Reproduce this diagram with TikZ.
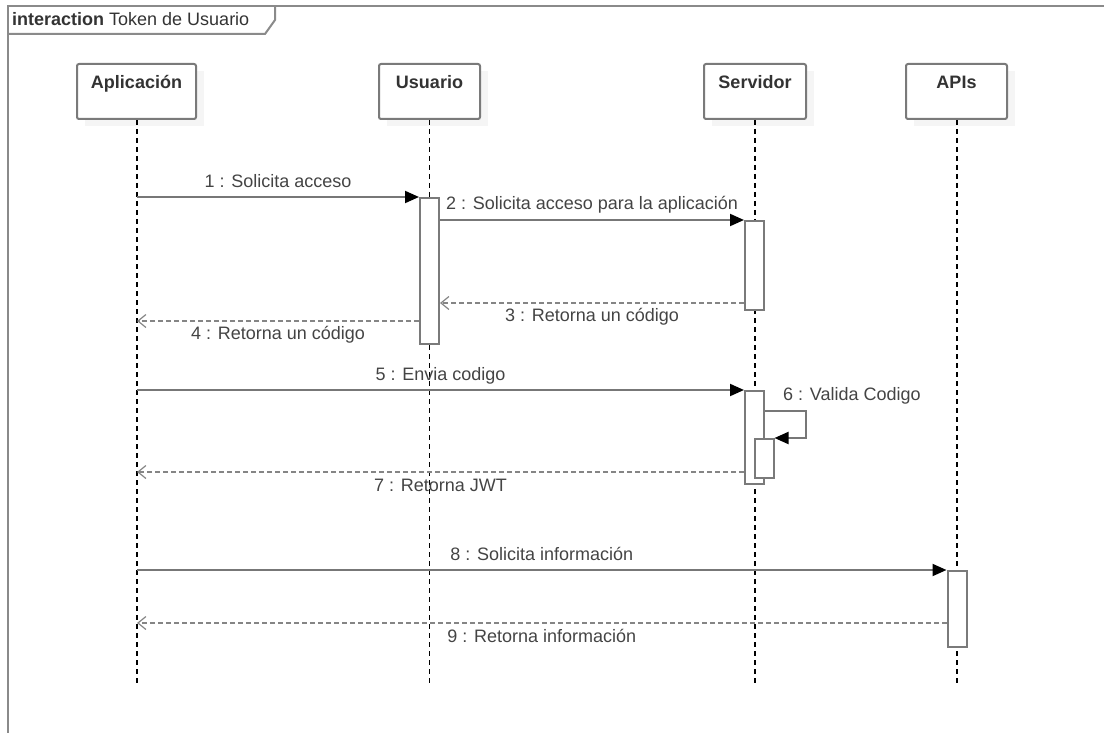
\documentclass[tikz,border=0pt]{standalone}
\usepackage{fontspec}
\setmainfont{Liberation Sans}
\usetikzlibrary{arrows.meta,calc}

\definecolor{frameline}{HTML}{8A8A8A}
\definecolor{msgline}{HTML}{777777}
\definecolor{boxline}{HTML}{7A7A7A}
\definecolor{labeltext}{HTML}{444444}
\definecolor{headtext}{HTML}{333333}

\tikzset{
  head/.style={draw=boxline, line width=2pt, rounded corners=2pt, fill=white,
    anchor=north, inner xsep=0pt, inner ysep=11.5pt, text height=13pt, text depth=19pt,
    font=\fontsize{18}{20}\selectfont\bfseries, text=headtext},
  headshadow/.style={fill=black!4, draw=none, anchor=north, minimum height=55pt, inner sep=0pt},
  lifeline/.style={draw=black, line width=1.1pt, dash pattern=on 5pt off 4pt},
  act/.style={draw=boxline, line width=2pt, fill=white, anchor=north,
    minimum width=19pt, inner sep=0pt},
  call/.style={draw=msgline, line width=2pt, -{Triangle[length=14pt,width=12pt,fill=black,color=black]}},
  reply/.style={draw=msgline!90, line width=1.5pt, dash pattern=on 5pt off 3pt,
    -{Straight Barb[length=8pt,width=13pt,line width=1.2pt]}},
  msglabel/.style={font=\fontsize{18}{20}\selectfont, text=labeltext,
    text height=13pt, text depth=4pt, inner sep=0pt},
}

\begin{document}
\begin{tikzpicture}[x=1pt, y=-1pt]
\useasboundingbox (0,0) rectangle (1104,733);

% interaction frame with its name tab
\draw[frameline, line width=2pt] (8,733) -- (8,6) -- (1104,6);
\draw[frameline, line width=2pt] (8,34) -- (265,34) -- (275,20) -- (275,6);
\node[anchor=base west, inner sep=0pt, font=\fontsize{18}{20}\selectfont, text=headtext]
  (title) at (12,26) {\textbf{interaction} Token de Usuario};

% lifeline heads (soft shadow, then the box)
\foreach \x/\w in {144.5/119, 437.5/101, 763/102, 964.5/101}
  \node[headshadow, minimum width=\w pt] at (\x,71) {};
\node[head, minimum width=119pt] (hA) at (136.5,63) {Aplicación};
\node[head, minimum width=101pt] (hU) at (429.5,63) {Usuario};
\node[head, minimum width=102pt] (hS) at (755,63) {Servidor};
\node[head, minimum width=101pt] (hP) at (956.5,63) {APIs};

% lifelines
\coordinate (eA) at (137,686);
\coordinate (eU) at (429.5,686);
\coordinate (eS) at (755,686);
\coordinate (eP) at (957,686);
\draw[lifeline] (hA.south -| eA) -- (eA);
\draw[lifeline] (hU.south) -- (eU);
\draw[lifeline] (hS.south) -- (eS);
\draw[lifeline] (hP.south -| eP) -- (eP);

% activation bars
\node[act, minimum height=146pt] (aU)  at (429.5,197) {};
\node[act, minimum height=89pt]  (aS1) at (754.5,220) {};
\node[act, minimum height=93pt]  (aS2) at (754.5,390) {};
\node[act, minimum height=39pt]  (aS3) at (764,438) {};
\node[act, minimum height=76pt]  (aP)  at (957,570) {};

% message end points on the Aplicación lifeline
\coordinate (p1) at (137,197);
\coordinate (p4) at (137,321);
\coordinate (p5) at (137,390);
\coordinate (p7) at (137,472);
\coordinate (p8) at (137,570);
\coordinate (p9) at (137,623);
\coordinate (loop) at (806,411);

% messages
\draw[call] (p1) -- (aU.north west)
  node[msglabel, midway, yshift=14pt] {1 : Solicita acceso};
\draw[call] (aU.east |- aS1.north) -- (aS1.north west)
  node[msglabel, midway, yshift=15pt] {2 : Solicita acceso para la aplicación};
\draw[reply] (aS1.west |- 0,303) -- (aU.east |- 0,303)
  node[msglabel, midway, yshift=-14pt] {3 : Retorna un código};
\draw[reply] (aU.west |- p4) -- (p4)
  node[msglabel, midway, yshift=-14pt] {4 : Retorna un código};
\draw[call] (p5) -- (aS2.north west)
  node[msglabel, midway, yshift=14pt] {5 : Envia codigo};
\draw[call] (aS2.east |- loop) -- (loop) -- (loop |- aS3.north) -- (aS3.north east);
\node[msglabel, anchor=west] (l6) at (783,396) {6 : Valida Codigo};
\draw[reply] (aS2.west |- p7) -- (p7)
  node[msglabel, midway, yshift=-15pt] {7 : Retorna JWT};
\draw[call] (p8) -- (aP.north west)
  node[msglabel, midway, yshift=14pt] {8 : Solicita información};
\draw[reply] (aP.west |- p9) -- (p9)
  node[msglabel, midway, yshift=-15pt] {9 : Retorna información};
\end{tikzpicture}
\end{document}
